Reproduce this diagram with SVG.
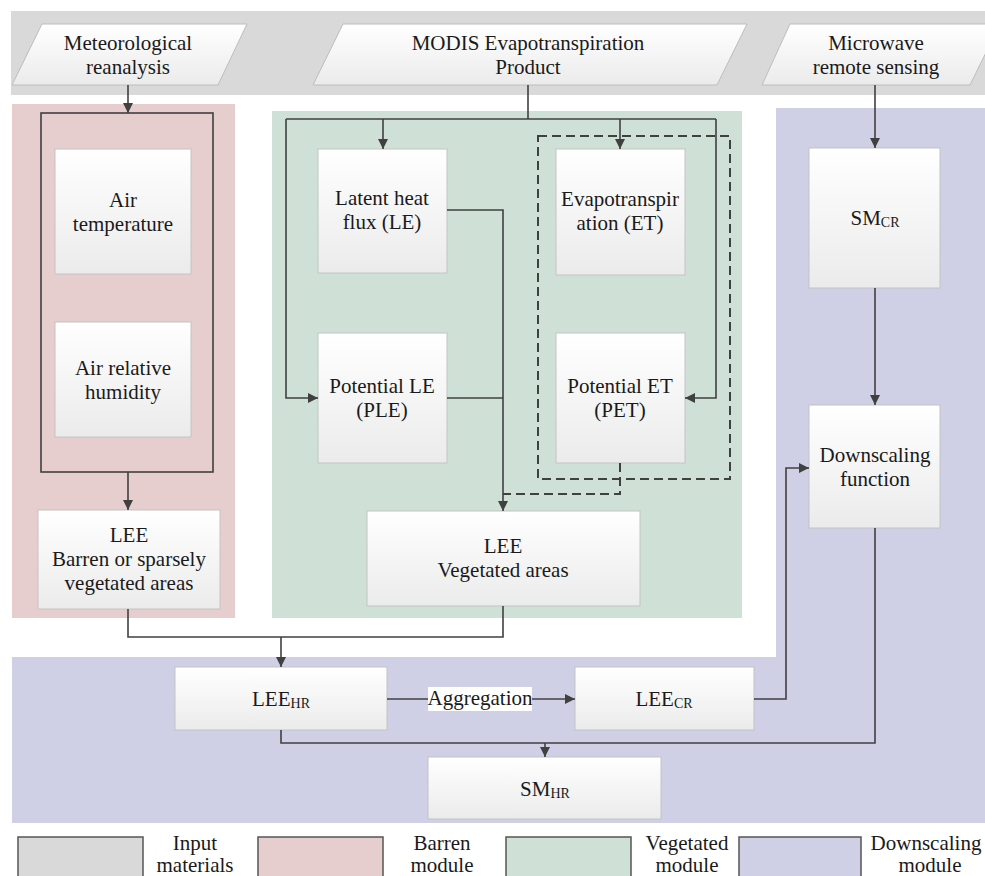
<svg xmlns="http://www.w3.org/2000/svg" width="985" height="876" viewBox="0 0 985 876">
<defs>
<linearGradient id="boxg" x1="0" y1="0" x2="0" y2="1">
<stop offset="0" stop-color="#ffffff"/>
<stop offset="1" stop-color="#ebebeb"/>
</linearGradient>
<marker id="arr" markerUnits="userSpaceOnUse" markerWidth="12" markerHeight="10" refX="10" refY="5" orient="auto">
<path d="M0,0 L10,5 L0,10 Z" fill="#404040"/>
</marker>
<style>
.box{fill:url(#boxg);stroke:#c4c4c4;stroke-width:1}
.para{fill:url(#boxg);stroke:#bdbdbd;stroke-width:1}
text{font-family:'Liberation Serif','DejaVu Serif','Times New Roman',serif;font-size:21px;fill:#1a1a1a;text-anchor:middle}
.sub{font-size:14px}
.c{fill:none;stroke:#404040;stroke-width:1.6}
.ca{fill:none;stroke:#404040;stroke-width:1.6;marker-end:url(#arr)}
.d{fill:none;stroke:#404040;stroke-width:2;stroke-dasharray:9,5}
.leg{stroke:#555;stroke-width:1.5}
</style>
</defs>

<g id="regions">
<rect x="11" y="11" width="974" height="84" fill="#d9d9d9"/>
<rect x="12" y="104" width="223" height="514" fill="#e6cdce"/>
<rect x="272" y="111" width="470" height="507" fill="#cfe1d7"/>
<path d="M776,108 H985 V823 H12 V657 H776 Z" fill="#cfcfe6"/>
</g>

<g id="met">
<polygon class="para" points="42,24 247,24 218,85 12,85"/>
<text x="128" y="50">Meteorological</text>
<text x="128" y="74">reanalysis</text>
</g>
<g id="modis">
<polygon class="para" points="343,24 747,24 717,85 313,85"/>
<text x="528" y="50">MODIS Evapotranspiration</text>
<text x="528" y="74">Product</text>
</g>
<g id="microwave">
<polygon class="para" points="790,24 1000,24 970,85 762,85"/>
<text x="876" y="50">Microwave</text>
<text x="876" y="74">remote sensing</text>
</g>

<g id="met-group">
<rect x="41" y="113" width="172" height="359" fill="none" stroke="#404040" stroke-width="1.6"/>
</g>
<g id="air-temp">
<rect class="box" x="55" y="149" width="136" height="125"/>
<text x="123" y="207">Air</text>
<text x="123" y="231">temperature</text>
</g>
<g id="air-rh">
<rect class="box" x="55" y="322" width="136" height="115"/>
<text x="123" y="375">Air relative</text>
<text x="123" y="399">humidity</text>
</g>
<g id="lee-barren">
<rect class="box" x="38" y="510" width="182" height="99"/>
<text x="129" y="542">LEE</text>
<text x="129" y="566">Barren or sparsely</text>
<text x="129" y="590">vegetated areas</text>
</g>

<g id="le">
<rect class="box" x="318" y="149" width="129" height="124"/>
<text x="382" y="205">Latent heat</text>
<text x="382" y="229">flux (LE)</text>
</g>
<g id="ple">
<rect class="box" x="318" y="333" width="129" height="130"/>
<text x="382" y="393">Potential LE</text>
<text x="382" y="417">(PLE)</text>
</g>
<g id="et">
<rect class="box" x="556" y="149" width="129" height="126"/>
<text x="620" y="206">Evapotranspir</text>
<text x="620" y="230">ation (ET)</text>
</g>
<g id="pet">
<rect class="box" x="556" y="333" width="129" height="130"/>
<text x="620" y="393">Potential ET</text>
<text x="620" y="417">(PET)</text>
</g>
<g id="et-group">
<rect class="d" x="538" y="136" width="192" height="343"/>
</g>
<g id="lee-veg">
<rect class="box" x="367" y="511" width="273" height="95"/>
<text x="503" y="553">LEE</text>
<text x="503" y="577">Vegetated areas</text>
</g>

<g id="sm-cr">
<rect class="box" x="809" y="148" width="131" height="140"/>
<text x="875" y="225">SM<tspan class="sub" dy="2">CR</tspan></text>
</g>
<g id="downscaling">
<rect class="box" x="809" y="405" width="131" height="123"/>
<text x="875" y="462">Downscaling</text>
<text x="875" y="486">function</text>
</g>
<g id="lee-hr">
<rect class="box" x="175" y="667" width="212" height="63"/>
<text x="281" y="706">LEE<tspan class="sub" dy="2">HR</tspan></text>
</g>
<g id="lee-cr">
<rect class="box" x="575" y="667" width="179" height="63"/>
<text x="664" y="706">LEE<tspan class="sub" dy="2">CR</tspan></text>
</g>
<g id="sm-hr">
<rect class="box" x="428" y="757" width="233" height="62"/>
<text x="545" y="796">SM<tspan class="sub" dy="2">HR</tspan></text>
</g>

<g id="connectors">
<line class="ca" x1="128" y1="85" x2="128" y2="113"/>
<line class="ca" x1="128" y1="472" x2="128" y2="510"/>
<polyline class="c" points="528,85 528,119"/>
<polyline class="c" points="286,119 716,119"/>
<line class="ca" x1="383" y1="119" x2="383" y2="149"/>
<line class="ca" x1="620" y1="119" x2="620" y2="149"/>
<polyline class="ca" points="286,119 286,398 318,398"/>
<polyline class="ca" points="716,119 716,398 685,398"/>
<polyline class="ca" points="447,210 503,210 503,511"/>
<polyline class="c" points="447,398 503,398"/>
<polyline class="d" points="620,463 620,494 503,494"/>
<polyline class="c" points="128,609 128,637 503,637 503,606"/>
<line class="ca" x1="281" y1="637" x2="281" y2="667"/>
<line class="ca" x1="875" y1="85" x2="875" y2="148"/>
<line class="ca" x1="875" y1="288" x2="875" y2="405"/>
<line class="ca" x1="387" y1="699" x2="575" y2="699"/>
<polyline class="ca" points="754,699 786,699 786,468 809,468"/>
<polyline class="c" points="281,730 281,743 875,743 875,528"/>
<line class="ca" x1="545" y1="743" x2="545" y2="757"/>
<rect x="428" y="687" width="104" height="24" fill="#ffffff"/>
<text x="480" y="705">Aggregation</text>
</g>

<g id="legend">
<rect class="leg" x="18" y="837" width="125" height="45" fill="#d9d9d9"/>
<text x="195" y="850">Input</text>
<text x="195" y="872">materials</text>
<rect class="leg" x="258" y="837" width="125" height="45" fill="#e6cdce"/>
<text x="442" y="850">Barren</text>
<text x="442" y="872">module</text>
<rect class="leg" x="506" y="837" width="125" height="45" fill="#cfe1d7"/>
<text x="687" y="850">Vegetated</text>
<text x="687" y="872">module</text>
<rect class="leg" x="739" y="837" width="122" height="45" fill="#cfcfe6"/>
<text x="926" y="850">Downscaling</text>
<text x="930" y="872">module</text>
</g>
</svg>
